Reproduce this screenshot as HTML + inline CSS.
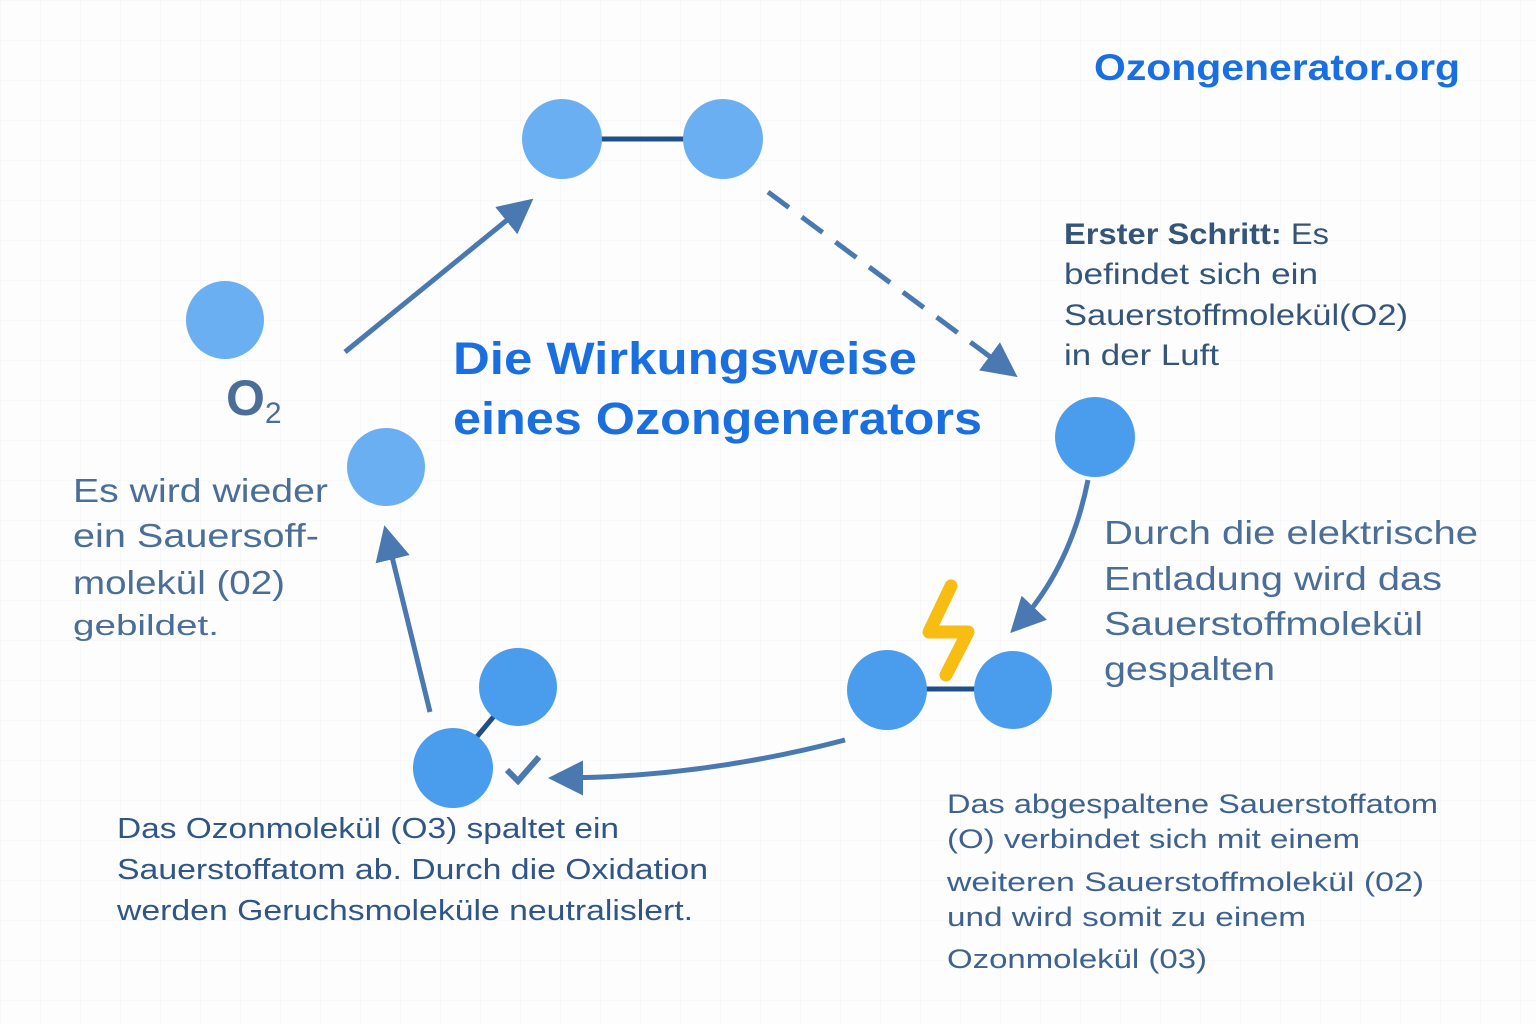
<!DOCTYPE html>
<html><head><meta charset="utf-8"><style>
html,body{margin:0;padding:0;background:#fdfdfe;}
svg{display:block}
text{font-family:"Liberation Sans",sans-serif;}
</style></head><body>
<svg width="1536" height="1024" viewBox="0 0 1536 1024" xmlns="http://www.w3.org/2000/svg">
<defs>
<pattern id="g" width="40" height="40" patternUnits="userSpaceOnUse"><path d="M40 0H0V40" fill="none" stroke="#f0f2f5" stroke-width="1"/></pattern>
<marker id="ah" viewBox="0 0 10 10" refX="8" refY="5" markerWidth="7" markerHeight="7" orient="auto"><path d="M0 0L10 5L0 10z" fill="#4a78b0"/></marker>
</defs>
<rect width="1536" height="1024" fill="#fdfdfe"/>
<rect width="1536" height="1024" fill="url(#g)"/>
<g stroke="#4a78b0" stroke-width="5" fill="none" stroke-linecap="butt">
<line x1="345" y1="352" x2="528" y2="203" marker-end="url(#ah)"/>
<line x1="768" y1="192" x2="1012" y2="373" stroke-dasharray="26,16" marker-end="url(#ah)"/>
<path d="M1088 480 Q1070 570 1015 628" marker-end="url(#ah)"/>
<path d="M845 740 Q700 778 555 778" marker-end="url(#ah)"/>
<line x1="430" y1="712" x2="386" y2="532" marker-end="url(#ah)"/>
</g>
<g stroke="#1f4f86" stroke-width="5">
<line x1="600" y1="139" x2="685" y2="139"/>
<line x1="925" y1="689" x2="975" y2="689"/>
<line x1="470" y1="745" x2="495" y2="715"/>
</g>
<g fill="#6aaff1">
<circle cx="562" cy="139" r="40"/><circle cx="723" cy="139" r="40"/>
<circle cx="225" cy="320" r="39"/><circle cx="386" cy="467" r="39"/>
</g>
<g fill="#4a9ced">
<circle cx="1095" cy="437" r="40"/>
<circle cx="887" cy="690" r="40"/><circle cx="1013" cy="690" r="39"/>
<circle cx="518" cy="687" r="39"/><circle cx="453" cy="768" r="40"/>
</g>
<path d="M951 586 L929 632 L968 632 L946 675" fill="none" stroke="#f7bd12" stroke-width="13" stroke-linejoin="round" stroke-linecap="round"/>
<path d="M507 770 L518 781 L539 757" fill="none" stroke="#4a78b0" stroke-width="6"/>
<text x="1094" y="80" font-size="37" font-weight="bold" fill="#1a6fe0" textLength="366" lengthAdjust="spacingAndGlyphs">Ozongenerator.org</text>
<text x="453" y="374" font-size="45" font-weight="bold" fill="#1a6fe0" textLength="464" lengthAdjust="spacingAndGlyphs">Die Wirkungsweise</text>
<text x="453" y="434" font-size="45" font-weight="bold" fill="#1a6fe0" textLength="529" lengthAdjust="spacingAndGlyphs">eines Ozongenerators</text>
<text x="226" y="415" font-size="50" font-weight="bold" fill="#4a6e98">O<tspan font-size="30" font-weight="normal" dy="8">2</tspan></text>
<g font-size="30" fill="#34557a">
<text x="1064" y="244" textLength="265" lengthAdjust="spacingAndGlyphs"><tspan font-weight="bold">Erster Schritt:</tspan> Es</text>
<text x="1064" y="284" textLength="254" lengthAdjust="spacingAndGlyphs">befindet sich ein</text>
<text x="1064" y="325" textLength="344" lengthAdjust="spacingAndGlyphs">Sauerstoffmolekül(O2)</text>
<text x="1064" y="365" textLength="155" lengthAdjust="spacingAndGlyphs">in der Luft</text>
</g>
<g font-size="33" fill="#4a6e98">
<text x="1104" y="544" textLength="374" lengthAdjust="spacingAndGlyphs">Durch die elektrische</text>
<text x="1104" y="590" textLength="338" lengthAdjust="spacingAndGlyphs">Entladung wird das</text>
<text x="1104" y="635" textLength="319" lengthAdjust="spacingAndGlyphs">Sauerstoffmolekül</text>
<text x="1104" y="680" textLength="171" lengthAdjust="spacingAndGlyphs">gespalten</text>
<text x="73" y="502" textLength="255" lengthAdjust="spacingAndGlyphs">Es wird wieder</text>
<text x="73" y="547" textLength="246" lengthAdjust="spacingAndGlyphs">ein Sauersoff-</text>
<text x="73" y="594" textLength="212" lengthAdjust="spacingAndGlyphs">molekül (02)</text>
</g>
<text x="73" y="635" font-size="29" fill="#4a6e98" textLength="146" lengthAdjust="spacingAndGlyphs">gebildet.</text>
<g font-size="29" fill="#2f5687">
<text x="117" y="838" textLength="502" lengthAdjust="spacingAndGlyphs">Das Ozonmolekül (O3) spaltet ein</text>
<text x="117" y="879" textLength="591" lengthAdjust="spacingAndGlyphs">Sauerstoffatom ab. Durch die Oxidation</text>
<text x="117" y="920" textLength="576" lengthAdjust="spacingAndGlyphs">werden Geruchsmoleküle neutralislert.</text>
</g>
<g font-size="27" fill="#3d6290">
<text x="947" y="813" textLength="491" lengthAdjust="spacingAndGlyphs">Das abgespaltene Sauerstoffatom</text>
<text x="947" y="848" textLength="413" lengthAdjust="spacingAndGlyphs">(O) verbindet sich mit einem</text>
<text x="947" y="891" textLength="477" lengthAdjust="spacingAndGlyphs">weiteren Sauerstoffmolekül (02)</text>
<text x="947" y="926" textLength="359" lengthAdjust="spacingAndGlyphs">und wird somit zu einem</text>
<text x="947" y="968" textLength="260" lengthAdjust="spacingAndGlyphs">Ozonmolekül (03)</text>
</g>
</svg>
</body></html>
